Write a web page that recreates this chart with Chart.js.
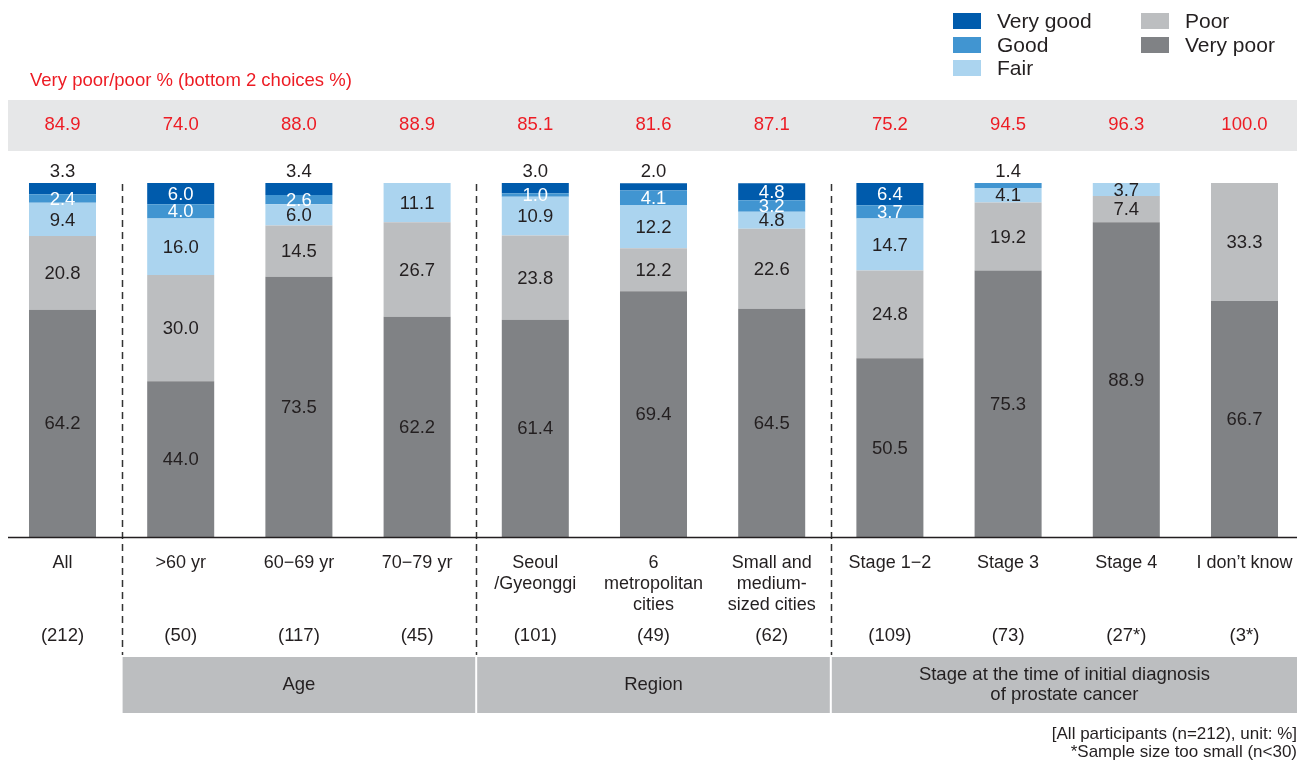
<!DOCTYPE html>
<html lang="en">
<head>
  <meta charset="UTF-8">
  <title>Self-rated health status</title>
  <script src="https://cdn.jsdelivr.net/npm/chart.js"></script>
  <style>
    html, body { margin: 0; padding: 0; background: #fff; }
    #wrap { width: 1305px; height: 761px; position: relative; }
  </style>
</head>
<body>
  <div id="wrap"><canvas id="chart"></canvas></div>
  <script>
    // Data (unit: %)
    const categories = [
      ['All'], ['>60 yr'], ['60\u221269 yr'], ['70\u221279 yr'],
      ['Seoul', '/Gyeonggi'], ['6', 'metropolitan', 'cities'], ['Small and', 'medium-', 'sized cities'],
      ['Stage 1\u22122'], ['Stage 3'], ['Stage 4'], ['I don\u2019t know']
    ];
    const sampleSizes = ['(212)', '(50)', '(117)', '(45)', '(101)', '(49)', '(62)', '(109)', '(73)', '(27*)', '(3*)'];
    const bottom2 = ['84.9', '74.0', '88.0', '88.9', '85.1', '81.6', '87.1', '75.2', '94.5', '96.3', '100.0'];

    const veryGood = [3.3, 6.0, 3.4, 0, 3.0, 2.0, 4.8, 6.4, 0, 0, 0];
    const good     = [2.4, 4.0, 2.6, 0, 1.0, 4.1, 3.2, 3.7, 1.4, 0, 0];
    const fair     = [9.4, 16.0, 6.0, 11.1, 10.9, 12.2, 4.8, 14.7, 4.1, 3.7, 0];
    const poor     = [20.8, 30.0, 14.5, 26.7, 23.8, 12.2, 22.6, 24.8, 19.2, 7.4, 33.3];
    const veryPoor = [64.2, 44.0, 73.5, 62.2, 61.4, 69.4, 64.5, 50.5, 75.3, 88.9, 66.7];

    const groups = [
      { label: ['Age'], from: 1, to: 3 },
      { label: ['Region'], from: 4, to: 6 },
      { label: ['Stage at the time of initial diagnosis', 'of prostate cancer'], from: 7, to: 10 }
    ];

    const FONT = '"Liberation Sans", Arial, Helvetica, sans-serif';
    const DARK = '#231F20';
    const RED = '#ED1C24';

    // stacked bottom-up: very poor first
    const datasets = [
      { label: 'Very poor', data: veryPoor, backgroundColor: '#808285', textColor: DARK },
      { label: 'Poor', data: poor, backgroundColor: '#BCBEC0', textColor: DARK },
      { label: 'Fair', data: fair, backgroundColor: '#ABD4EF', textColor: DARK },
      { label: 'Good', data: good, backgroundColor: '#4195D1', textColor: '#fff' },
      { label: 'Very good', data: veryGood, backgroundColor: '#005BAC', textColor: '#fff' }
    ];

    const decor = {
      id: 'decor',
      beforeDraw(chart) {
        const ctx = chart.ctx;
        const x = chart.scales.x;
        const half = (x.getPixelForValue(1) - x.getPixelForValue(0)) / 2;
        ctx.save();
        ctx.fillStyle = '#fff';
        ctx.fillRect(0, 0, chart.width, chart.height);

        // red header + band of bottom-2 values
        ctx.fillStyle = RED;
        ctx.font = '18.5px ' + FONT;
        ctx.textAlign = 'left';
        ctx.textBaseline = 'middle';
        ctx.fillText('Very poor/poor % (bottom 2 choices %)', 30, 81);
        ctx.fillStyle = '#E6E7E8';
        ctx.fillRect(8, 100, 1289, 51);
        ctx.fillStyle = RED;
        ctx.textAlign = 'center';
        bottom2.forEach((v, i) => ctx.fillText(v, x.getPixelForValue(i), 125));

        // dashed separators between groups
        ctx.strokeStyle = '#333';
        ctx.lineWidth = 1.5;
        ctx.setLineDash([7, 5]);
        groups.forEach(g => {
          const gx = Math.round(x.getPixelForValue(g.from) - half) + 0.5;
          ctx.beginPath();
          ctx.moveTo(gx, 184);
          ctx.lineTo(gx, 655);
          ctx.stroke();
        });
        ctx.setLineDash([]);

        // category labels and sample sizes
        ctx.fillStyle = DARK;
        ctx.font = '18px ' + FONT;
        categories.forEach((lines, i) => {
          const cx = x.getPixelForValue(i);
          lines.forEach((t, k) => ctx.fillText(t, cx, 563 + k * 21));
        });
        ctx.font = '18.5px ' + FONT;
        sampleSizes.forEach((s, i) => ctx.fillText(s, x.getPixelForValue(i), 636));

        // group boxes
        groups.forEach(g => {
          const left = x.getPixelForValue(g.from) - half + 1;
          const right = Math.min(x.getPixelForValue(g.to) + half - 1, 1297);
          ctx.fillStyle = '#BCBEC0';
          ctx.fillRect(left, 657, right - left, 56);
          ctx.fillStyle = DARK;
          const mid = (left + right) / 2;
          const y0 = 685 - (g.label.length - 1) * 10;
          g.label.forEach((t, k) => ctx.fillText(t, mid, y0 + k * 20));
        });

        // footnotes
        ctx.font = '17px ' + FONT;
        ctx.textAlign = 'right';
        ctx.fillText('[All participants (n=212), unit: %]', 1297, 734);
        ctx.fillText('*Sample size too small (n<30)', 1297, 752);

        // legend
        const legendItems = [
          { ds: 4, x: 953, y: 13 }, { ds: 3, x: 953, y: 37 }, { ds: 2, x: 953, y: 60 },
          { ds: 1, x: 1141, y: 13 }, { ds: 0, x: 1141, y: 37 }
        ];
        ctx.font = '21px ' + FONT;
        ctx.textAlign = 'left';
        legendItems.forEach(it => {
          const d = chart.data.datasets[it.ds];
          ctx.fillStyle = d.backgroundColor;
          ctx.fillRect(it.x, it.y, 28, 16);
          ctx.fillStyle = DARK;
          ctx.fillText(d.label, it.x + 44, it.y + 9);
        });
        ctx.restore();
      },
      afterDatasetsDraw(chart) {
        const ctx = chart.ctx;
        ctx.save();
        ctx.font = '18.5px ' + FONT;
        ctx.textAlign = 'center';
        ctx.textBaseline = 'middle';
        const n = categories.length;
        for (let i = 0; i < n; i++) {
          // topmost non-zero segment
          let topDs = -1;
          chart.data.datasets.forEach((d, di) => { if (d.data[i] > 0) topDs = di; });
          chart.data.datasets.forEach((d, di) => {
            const v = d.data[i];
            if (!v) return;
            const bar = chart.getDatasetMeta(di).data[i];
            if (di === topDs && v < 3.5) {
              ctx.fillStyle = DARK;
              ctx.fillText(v.toFixed(1), bar.x, bar.y - 11);
            } else {
              ctx.fillStyle = d.textColor;
              ctx.fillText(v.toFixed(1), bar.x, (bar.y + bar.base) / 2 + 1);
            }
          });
        }
        // axis line
        ctx.strokeStyle = DARK;
        ctx.lineWidth = 1.5;
        ctx.beginPath();
        const by = chart.scales.y.getPixelForValue(0);
        ctx.moveTo(8, by + 0.5);
        ctx.lineTo(1297, by + 0.5);
        ctx.stroke();
        ctx.restore();
      }
    };

    new Chart(document.getElementById('chart'), {
      type: 'bar',
      data: {
        labels: categories.map(c => c.join(' ')),
        datasets: datasets.map(d => Object.assign({ borderWidth: 0, barPercentage: 0.567, categoryPercentage: 1 }, d))
      },
      options: {
        responsive: true,
        maintainAspectRatio: false,
        animation: false,
        layout: { padding: { left: 3.4, right: 1.4, top: 183, bottom: 224 } },
        scales: {
          x: { stacked: true, display: false },
          y: { stacked: true, display: false, min: 0, max: 100 }
        },
        plugins: { legend: { display: false }, tooltip: { enabled: false } }
      },
      plugins: [decor]
    });
  </script>
</body>
</html>
